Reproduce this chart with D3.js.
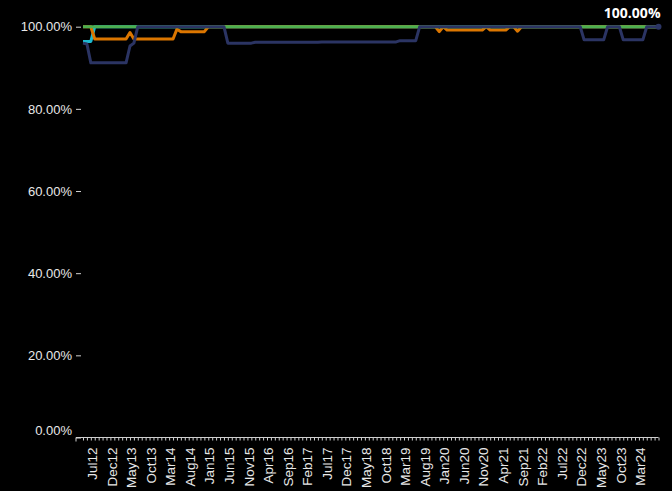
<!DOCTYPE html>
<html>
<head>
<meta charset="utf-8">
<script src="https://cdn.jsdelivr.net/npm/d3@7"></script>
<style>
  body { margin: 0; background: #000; }
  svg { display: block; background: #000; font-family: "Open Sans", "Noto Sans", sans-serif; }
  .axis text { fill: #e8e8e8; }
  .axis line, .axis path { stroke: #d0d0d0; }
</style>
</head>
<body>
<svg id="chart" width="672" height="491"></svg>
<script>
var width = 672;
var height = 491;

// months Jul12 .. Oct24, one point per month
var startMonth = new Date(2012, 6, 1);
var monthCount = 148;
var months = d3.timeMonth.range(startMonth, d3.timeMonth.offset(startMonth, monthCount));
var fmtMonth = d3.timeFormat("%b%y");

var yTicks = [0, 20, 40, 60, 80, 100];

// series values in percent, 12 per row (Jul..Jun)
var cyanValues = [
  96.4, 96.4, 96.4, 100, 100, 100, 100, 100, 100, 100, 100, 100,
  100, 100, 100, 100, 100, 100, 100, 100, 100, 100, 100, 100,
  100, 100, 100, 100, 100, 100, 100, 100, 100, 100, 100, 100,
  100, 100, 100, 100, 100, 100, 100, 100, 100, 100, 100, 100,
  100, 100, 100, 100, 100, 100, 100, 100, 100, 100, 100, 100,
  100, 100, 100, 100, 100, 100, 100, 100, 100, 100, 100, 100,
  100, 100, 100, 100, 100, 100, 100, 100, 100, 100, 100, 100,
  100, 100, 100, 100, 100, 100, 100, 100, 100, 100, 100, 100,
  100, 100, 100, 100, 100, 100, 100, 100, 100, 100, 100, 100,
  100, 100, 100, 100, 100, 100, 100, 100, 100, 100, 100, 100,
  100, 100, 100, 100, 100, 100, 100, 100, 100, 100, 100, 100,
  100, 100, 100, 100, 100, 100, 100, 100, 100, 100, 100, 100,
  100, 100, 100, 100
];

var orangeValues = [
  100, 100, 100, 97, 97, 97, 97, 97, 97, 97, 97, 97,
  98.6, 97, 97, 97, 97, 97, 97, 97, 97, 97, 97, 97,
  99.4, 98.8, 98.8, 98.8, 98.8, 98.8, 98.8, 98.8, 100, 100, 100, 100,
  100, 100, 100, 100, 100, 100, 100, 100, 100, 100, 100, 100,
  100, 100, 100, 100, 100, 100, 100, 100, 100, 100, 100, 100,
  100, 100, 100, 100, 100, 100, 100, 100, 100, 100, 100, 100,
  100, 100, 100, 100, 100, 100, 100, 100, 100, 100, 100, 100,
  100, 100, 100, 100, 100, 100, 100, 98.8, 100, 99.2, 99.2, 99.2,
  99.2, 99.2, 99.2, 99.2, 99.2, 99.2, 99.2, 100, 99.2, 99.2, 99.2, 99.2,
  99.2, 100, 100, 98.9, 100, 100, 100, 100, 100, 100, 100, 100,
  100, 100, 100, 100, 100, 100, 100, 100, 100, 100, 100, 100,
  100, 100, 100, 100, 100, 100, 100, 100, 100, 100, 100, 100,
  100, 100, 100, 100
];

var greenValues = [
  100, 100, 100, 100, 100, 100, 100, 100, 100, 100, 100, 100,
  100, 100, 100, 100, 100, 100, 100, 100, 100, 100, 100, 100,
  100, 100, 100, 100, 100, 100, 100, 100, 100, 100, 100, 100,
  100, 100, 100, 100, 100, 100, 100, 100, 100, 100, 100, 100,
  100, 100, 100, 100, 100, 100, 100, 100, 100, 100, 100, 100,
  100, 100, 100, 100, 100, 100, 100, 100, 100, 100, 100, 100,
  100, 100, 100, 100, 100, 100, 100, 100, 100, 100, 100, 100,
  100, 100, 100, 100, 100, 100, 100, 100, 100, 100, 100, 100,
  100, 100, 100, 100, 100, 100, 100, 100, 100, 100, 100, 100,
  100, 100, 100, 100, 100, 100, 100, 100, 100, 100, 100, 100,
  100, 100, 100, 100, 100, 100, 100, 100, 100, 100, 100, 100,
  100, 100, 100, 100, 100, 100, 100, 100, 100, 100, 100, 100,
  100, 100, 100, 100
];

var navyValues = [
  96.0, 95.8, 91.2, 91.2, 91.2, 91.2, 91.2, 91.2, 91.2, 91.2, 91.2, 91.2,
  95.3, 96.0, 100, 100, 100, 100, 100, 100, 100, 100, 100, 100,
  100, 100, 100, 100, 100, 100, 100, 100, 100, 100, 100, 100,
  100, 96.0, 96.0, 96.0, 96.0, 96.0, 96.0, 96.0, 96.2, 96.2, 96.2, 96.2,
  96.2, 96.2, 96.2, 96.2, 96.2, 96.2, 96.2, 96.2, 96.2, 96.2, 96.2, 96.2,
  96.2, 96.3, 96.3, 96.3, 96.3, 96.3, 96.3, 96.3, 96.3, 96.3, 96.3, 96.3,
  96.3, 96.3, 96.3, 96.3, 96.3, 96.3, 96.3, 96.3, 96.3, 96.6, 96.6, 96.6,
  96.6, 96.6, 100, 100, 100, 100, 100, 100, 100, 100, 100, 100,
  100, 100, 100, 100, 100, 100, 100, 100, 100, 100, 100, 100,
  100, 100, 100, 100, 100, 100, 100, 100, 100, 100, 100, 100,
  100, 100, 100, 100, 100, 100, 100, 100, 96.8, 96.8, 96.8, 96.8,
  96.8, 96.8, 100, 100, 100, 100, 96.8, 96.8, 96.8, 96.8, 96.8, 96.8,
  100, 100, 100, 100
];

// drawing order: later series sit on top
var series = [
  {name: "cyan", color: "#1cb9cf", values: cyanValues},
  {name: "orange", color: "#dc7600", values: orangeValues},
  {name: "green", color: "#4caf50", values: greenValues},
  {name: "navy", color: "#2b3463", values: navyValues}
];

var svg = d3.select("#chart");

var x = d3.scalePoint()
    .domain(months)
    .range([83, 658.5]);

var y = d3.scaleLinear()
    .domain([0, 100])
    .range([437.5, 26.7]);

var pct = d3.format(".2%");

// y axis, no domain line
var yAxis = svg.append("g")
    .attr("class", "axis")
    .attr("transform", "translate(81,0)")
    .call(d3.axisLeft(y).tickValues(yTicks).tickSize(5).tickPadding(4)
        .tickFormat(function(d) { return pct(d / 100); }));
yAxis.select(".domain").remove();
yAxis.selectAll("text").style("font-size", "13px");
// the bottom label sits a little above the axis line
yAxis.selectAll("text").filter(function(d) { return d === 0; }).attr("y", -7);

// x axis: a tick every month, a label every 5 months
var xAxis = svg.append("g")
    .attr("class", "axis")
    .attr("transform", "translate(0," + y(0) + ")")
    .call(d3.axisBottom(x).tickSize(3).tickSizeOuter(0).tickFormat(fmtMonth));
xAxis.select(".domain").attr("d", "M" + (x.range()[0] - 7) + ",4V0H" + x.range()[1]);
xAxis.selectAll("text")
    .style("font-size", "13.5px")
    .style("text-anchor", "end")
    .attr("x", -10)
    .attr("y", 13.5)
    .attr("dy", 0)
    .attr("transform", "rotate(-90)")
    .style("display", function(d, i) { return (i % 5 === 0 && i <= monthCount - 6) ? null : "none"; });

var line = d3.line()
    .x(function(d, i) { return x(months[i]); })
    .y(function(d) { return y(d); });

svg.selectAll(".series")
    .data(series)
    .enter().append("path")
    .attr("class", "series")
    .attr("fill", "none")
    .attr("stroke", function(d) { return d.color; })
    .attr("stroke-width", 3)
    .attr("stroke-linejoin", "round")
    .attr("d", function(d) { return line(d.values); });

// end marker and value of the last series
var last = series[series.length - 1];
var lastIdx = last.values.length - 1;
svg.append("circle")
    .attr("cx", x(months[lastIdx]))
    .attr("cy", y(last.values[lastIdx]))
    .attr("r", 3)
    .attr("fill", last.color);

svg.append("text")
    .attr("x", x(months[lastIdx]) + 2)
    .attr("y", y(last.values[lastIdx]) - 8.5)
    .attr("text-anchor", "end")
    .style("font-size", "14px")
    .style("font-weight", "bold")
    .style("fill", "#fff")
    .text(pct(last.values[lastIdx] / 100));
</script>
</body>
</html>
